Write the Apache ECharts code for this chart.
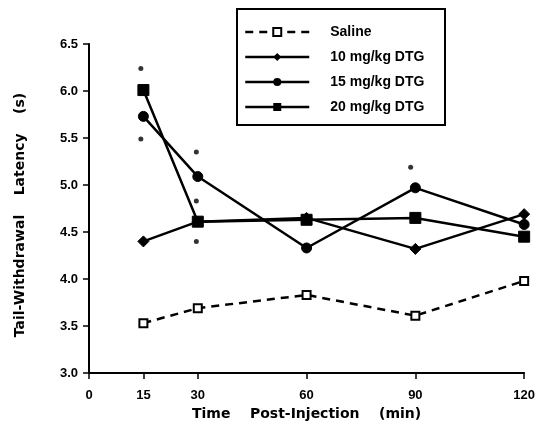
<!DOCTYPE html>
<html><head><meta charset="utf-8">
<script src="https://cdn.jsdelivr.net/npm/echarts@6/dist/echarts.min.js"></script>
<style>html,body{margin:0;padding:0;background:#fff}#c{width:538px;height:437px}</style>
</head><body><div id="c"></div>
<script>
const times = [15, 30, 60, 90, 120];
const xTicks = [0, 15, 30, 60, 90, 120];
const seriesNames = ['Saline', '10 mg/kg DTG', '15 mg/kg DTG', '20 mg/kg DTG'];
const saline = [3.53, 3.69, 3.83, 3.61, 3.98];
const dtg10 = [4.40, 4.61, 4.65, 4.32, 4.69];
const dtg15 = [5.73, 5.09, 4.33, 4.97, 4.58];
const dtg20 = [6.01, 4.61, 4.63, 4.65, 4.45];
const starTimes = [14.3, 14.3, 29.6, 29.6, 29.6, 88.7];
const starValues = [6.24, 5.49, 5.35, 4.83, 4.40, 5.19];

const pair = (xs, ys) => xs.map((x, i) => [x, ys[i]]);
const F = 'Liberation Sans, Arial, sans-serif';
const FT = 'DejaVu Sans, sans-serif';
const chart = echarts.init(document.getElementById('c'));
const lineBase = {type: 'line', color: '#000', lineStyle: {color: '#000', width: 2.5}, itemStyle: {color: '#000', borderColor: '#000'}, z: 3};
chart.setOption({
  backgroundColor: '#fff',
  animation: false,
  grid: {left: 89, right: 12, top: 44, bottom: 64},
  xAxis: {
    type: 'value', min: 0, max: 120, interval: 15,
    splitLine: {show: false},
    axisLine: {lineStyle: {color: '#000', width: 2}},
    axisTick: {customValues: xTicks, length: 6, lineStyle: {color: '#000', width: 1.5}},
    axisLabel: {customValues: xTicks, color: '#000', fontFamily: F, fontWeight: 'bold', fontSize: 13, margin: 16},
    name: 'Time    Post-Injection    (min)', nameLocation: 'middle', nameGap: 27,
    nameTextStyle: {color: '#000', fontFamily: FT, fontWeight: 'bold', fontSize: 14}
  },
  yAxis: {
    type: 'value', min: 3.0, max: 6.5, interval: 0.5,
    splitLine: {show: false},
    axisLine: {show: true, lineStyle: {color: '#000', width: 2}},
    axisTick: {show: true, length: 6, lineStyle: {color: '#000', width: 1.5}},
    axisLabel: {color: '#000', fontFamily: F, fontWeight: 'bold', fontSize: 13, margin: 11, formatter: v => v.toFixed(1)},
    name: 'Tail-Withdrawal    Latency    (s)', nameLocation: 'middle', nameGap: 62,
    nameTextStyle: {color: '#000', fontFamily: FT, fontWeight: 'bold', fontSize: 14, padding: [0, 13, 0, 0]}
  },
  legend: {
    data: seriesNames, orient: 'vertical', left: 239, top: 20,
    itemWidth: 64, itemHeight: 10, itemGap: 11,
    lineStyle: {width: 2.5},
    textStyle: {color: '#000', fontFamily: F, fontWeight: 'bold', fontSize: 14, padding: [0, 0, 0, 16]},
    inactiveColor: '#000'
  },
  graphic: [{type: 'rect', shape: {x: 237, y: 9, width: 208, height: 116}, style: {fill: 'none', stroke: '#000', lineWidth: 2}, z: 10}],
  series: [
    Object.assign({}, lineBase, {name: seriesNames[0], data: pair(times, saline), symbol: 'rect', symbolSize: 8,
      lineStyle: {color: '#000', width: 2.5, type: [8, 6]}, itemStyle: {color: '#fff', borderColor: '#000', borderWidth: 2}}),
    Object.assign({}, lineBase, {name: seriesNames[1], data: pair(times, dtg10), symbol: 'diamond', symbolSize: 11}),
    Object.assign({}, lineBase, {name: seriesNames[2], data: pair(times, dtg15), symbol: 'circle', symbolSize: 10}),
    Object.assign({}, lineBase, {name: seriesNames[3], data: pair(times, dtg20), symbol: 'rect', symbolSize: 11}),
    {type: 'scatter', name: 'sig', data: pair(starTimes, starValues), symbol: 'circle', symbolSize: 5, itemStyle: {color: '#000'}, z: 4}
  ]
});
</script></body></html>
